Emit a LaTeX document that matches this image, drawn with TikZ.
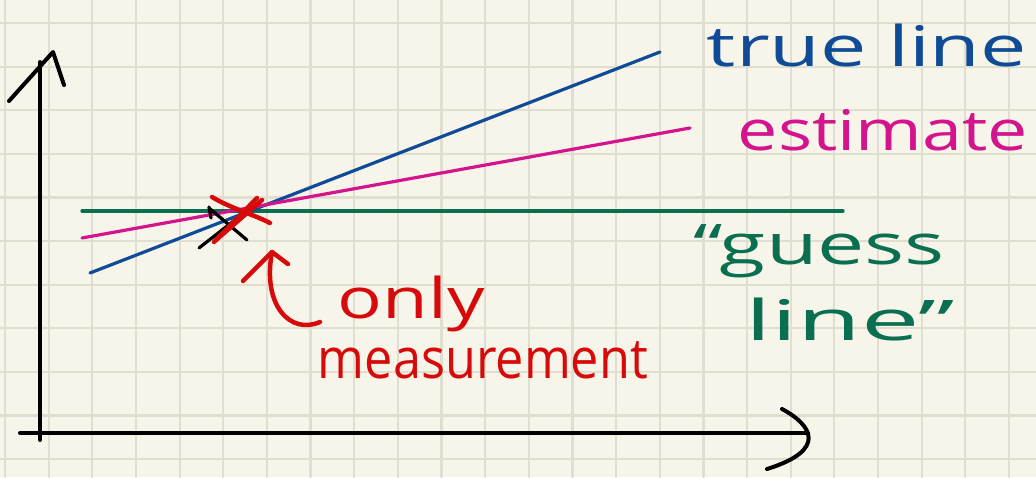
\documentclass[tikz,border=0pt]{standalone}
\usepackage{graphicx}
\usepackage{fontspec}
\setmainfont{Open Sans}
\definecolor{paper}{RGB}{247,245,233}
\definecolor{gridc}{RGB}{224,222,208}
\definecolor{penblue}{RGB}{15,75,150}
\definecolor{penpink}{RGB}{212,20,140}
\definecolor{pengreen}{RGB}{10,110,80}
\definecolor{penred}{RGB}{214,10,10}
\begin{document}
\begin{tikzpicture}[x=1pt,y=-1pt,line cap=round,line join=round,
  gridline/.style={draw=gridc,line width=2.2pt},
  axis/.style={draw=black,line width=4pt},
  pen/.style={line width=3.2pt},
  ink/.style={line width=4.5pt},
  hand/.style={inner sep=0pt,anchor=base,font=\fontsize{56}{60}\selectfont},
]
\useasboundingbox (0,0) rectangle (1036,477);
\fill[paper] (0,0) rectangle (1036,477);
\foreach \i in {0,...,23} \draw[gridline] ({5+\i*43.65},0) -- ({5+\i*43.65},477);
\foreach \j in {0,...,10} \draw[gridline] (0,{23+\j*43.6}) -- (1036,{23+\j*43.6});

% axes
\coordinate (ybot) at (40,440);
\coordinate (ytop) at (40,62);
\coordinate (xl) at (20,433);
\coordinate (xr) at (808,433);
\draw[axis] (ybot) -- (ytop);
\draw[axis] (9,101) -- (53,52) -- (64,85);
\draw[axis] (xl) -- (xr);
\draw[axis] (782,409) .. controls (812,425) and (828,450) .. (767,469);

% lines
\coordinate (t1) at (90,273);
\coordinate (t2) at (660,52);
\coordinate (e1) at (82,238);
\coordinate (e2) at (690,128);
\coordinate (g1) at (82,211);
\coordinate (g2) at (843,211);
\draw[pen,draw=pengreen] (g1) -- (g2);
\draw[pen,draw=penblue] (t1) -- (t2);
\draw[pen,draw=penpink] (e1) -- (e2);

% measurement marks
\coordinate (m) at (235,211);
\draw[pen,draw=black] (199,248) -- (240,216);
\draw[pen,draw=black] (209,208) -- (247,240);
\draw[pen,draw=black] (209,207) -- (211,218);
\draw[ink,draw=penred] (212,197) .. controls (230,208) and (255,215) .. (270,223);
\draw[ink,draw=penred] (214,242) -- (257,198);
\draw[ink,draw=penred] (216,240) -- (262,200);

% labels
\node[hand,text=penblue] (truelbl) at (867,66) {\resizebox{320pt}{\height}{true line}};
\node[hand,text=penpink] (estlbl) at (883,150) {\resizebox{290pt}{\height}{estimate}};
\node[hand,text=pengreen] (guess1) at (819,264) {\resizebox{252pt}{\height}{“guess}};
\node[hand,text=pengreen] (guess2) at (850,340) {\resizebox{210pt}{\height}{line”}};
\node[hand,text=penred] (only) at (411,318) {\resizebox{147pt}{\height}{only}};
\node[hand,text=penred] (meas) at (483,378) {\resizebox{330pt}{\height}{measurement}};

% arrow from label to measurement
\coordinate (tail) at (320,322);
\coordinate (tip) at (272,252);
\draw[ink,draw=penred] (tail) .. controls (290,335) and (262,305) .. (tip);
\draw[ink,draw=penred] (243,281) -- (tip) -- (288,264);
\end{tikzpicture}
\end{document}
